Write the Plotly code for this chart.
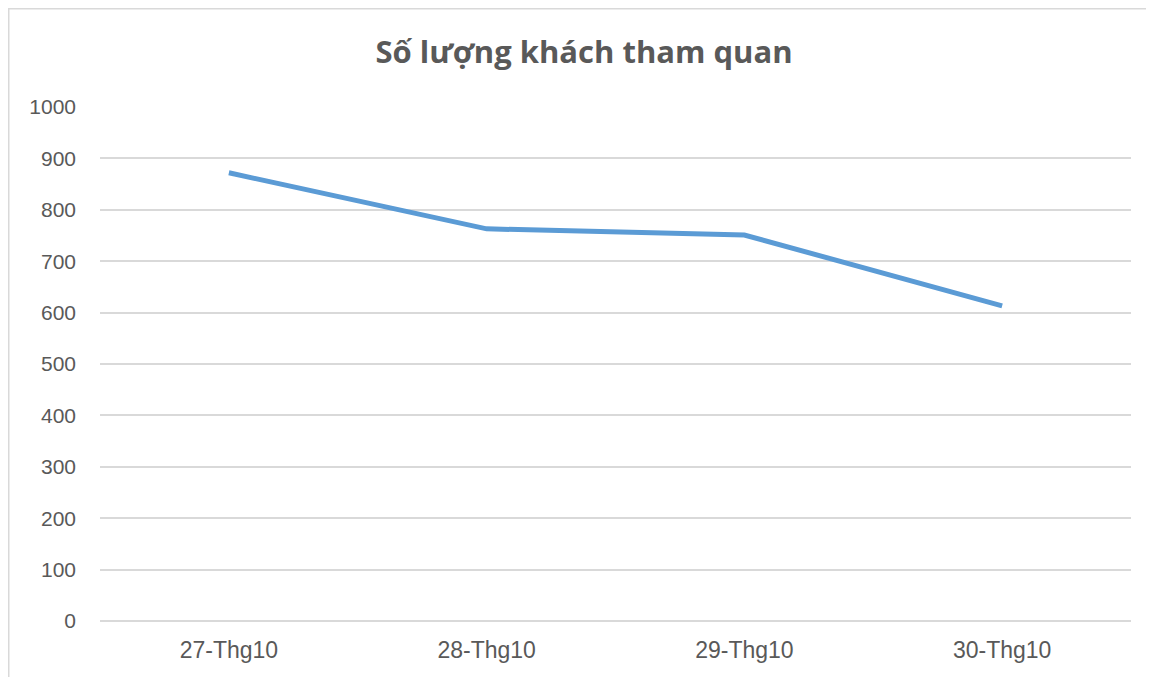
import plotly.graph_objects as go

# data
ngay = ['27-Thg10', '28-Thg10', '29-Thg10', '30-Thg10']
so_khach = [872, 763, 751, 613]
y_ticks = [0, 100, 200, 300, 400, 500, 600, 700, 800, 900, 1000]

# page has an 8px body margin, so the figure is 8px smaller than the window
W, H = 1146, 669
L, R, T, B = 92, 23, 99, 56
pw, ph = W - L - R, H - T - B

fig = go.Figure()
fig.add_trace(go.Scatter(x=ngay, y=so_khach, mode='lines',
                         line=dict(color='#5B9BD5', width=5),
                         name='Số lượng khách'))

fig.update_layout(
    width=W, height=H,
    margin=dict(l=L, r=R, t=T, b=B),
    paper_bgcolor='white', plot_bgcolor='white',
    showlegend=False,
    title=dict(text='<b>Số lượng khách tham quan</b>',
               x=576 / W, xref='container', xanchor='center',
               y=1 - 44 / H, yref='container', yanchor='middle',
               font=dict(family='Open Sans', size=31, color='#595959')),
    font=dict(family='Liberation Sans', size=21, color='#595959'),
)

fig.update_xaxes(range=[-0.5, 3.5], showgrid=False, showline=False, ticks='',
                 ticklabelstandoff=13, tickfont=dict(size=23, color='#595959'))
fig.update_yaxes(range=[0, 1000], tickvals=y_ticks, showgrid=True,
                 gridcolor='#d9d9d9', gridwidth=1.5,
                 zeroline=True, zerolinecolor='#d9d9d9', zerolinewidth=1.5,
                 showline=False, ticks='', ticklabelstandoff=23,
                 tickfont=dict(size=21, color='#595959'))

# outer chart border (only left and top edges are visible in the crop)
fig.add_shape(type='rect', xref='paper', yref='paper',
              x0=(0.75 - L) / pw, x1=1.2, y0=-0.3, y1=(H - B - 0.75) / ph,
              line=dict(color='#d9d9d9', width=1.5), layer='below')

fig.write_html('out.html')
